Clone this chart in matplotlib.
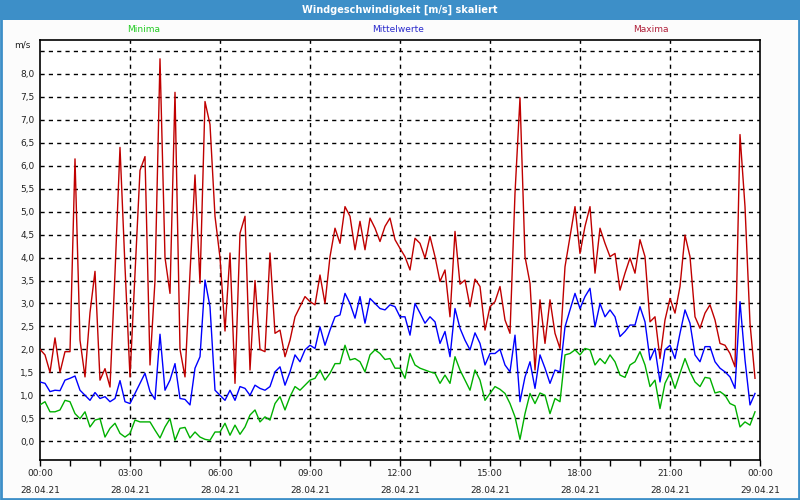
import matplotlib
matplotlib.use("Agg")
import matplotlib.pyplot as plt
from matplotlib.patches import Rectangle
import numpy as np

# 10-minute samples, 28.04.21 00:00 .. 23:50
maxima = [2.0,1.88,1.5,2.25,1.5,1.95,1.95,6.15,2.2,1.4, 2.8,3.7,1.33,1.58,1.18,3.66,6.4,3.8,1.4,3.66,
          5.9,6.2,1.66,3.5,8.33,4.0,3.22,7.6,2.0,1.4, 3.66,5.8,
          3.44,7.4,6.9,4.9,4.0,2.4,4.1,
          1.26,4.53,4.9,1.55,3.5,2.0,1.95,4.1,2.35,2.42, 1.84,2.2,2.71,2.93,3.15,3.04,2.97,3.62,3.0,4.02,
          4.64,4.31,5.11,4.9,4.17,4.79,4.17,4.86,4.64,4.35, 4.68,
          4.86,4.39,4.2,4.02,3.73,4.42,4.31,3.99,4.46,4.02, 3.48,3.73,2.71,4.57,3.42,3.51,2.93,3.53,3.37,2.42,
          2.93,3.04,3.37,2.64,2.35,5.4,7.48,4.02,3.44,1.55, 3.08,2.13,3.08,2.35,2.02,3.8,4.46,5.11,
          4.09,4.68,5.11,3.66,4.64,4.31,4.02,4.09,3.29,3.66, 3.99,3.66,4.39,4.02,2.6,2.71,1.8,2.64,3.11,2.79,
          3.37,4.49,4.02,2.71,2.46,2.79,2.97,2.64,2.13,2.09, 1.91,1.62,6.68,5.11,2.57,1.37]

mittel = [1.29,1.26,1.08,1.11,1.10,1.33,1.37,1.42,1.11,1.0, 0.89,1.06,0.93,0.97,0.86,0.93,1.32,0.86,0.82,1.04,
          1.26,1.48,1.08,0.91,2.33,1.11,1.33,1.69,0.93,0.91, 0.79,1.59,
          1.84,3.51,2.93,1.11,1.0,0.89,1.11,0.89,1.19,1.15, 1.0,1.22,1.15,1.11,1.19,1.51,1.62,1.22,1.51,1.88,
          1.73,1.99,2.09,2.02,2.49,2.09,2.42,2.71,2.75,3.22, 3.0,2.68,3.15,2.57,3.11,3.0,2.89,2.86,
          2.97,2.93,2.71,2.71,2.31,3.0,2.79,2.57,2.71,2.6, 2.13,2.39,1.84,2.89,2.46,2.2,1.99,2.36,2.13,1.66,
          1.91,1.91,2.0,1.66,1.51,2.31,0.86,1.4,1.73,1.15, 1.88,1.59,1.26,1.55,1.51,2.49,2.86,3.22,
          2.89,3.15,3.33,2.49,3.0,2.71,2.86,2.71,2.28,2.39, 2.53,2.53,2.93,2.6,1.77,2.02,1.29,1.99,2.09,1.8,
          2.35,2.86,2.57,1.88,1.73,2.06,2.06,1.73,1.59,1.51, 1.4,1.15,3.04,1.77,0.79,1.04]

minima = [0.79,0.86,0.64,0.64,0.68,0.89,0.86,0.60,0.49,0.64, 0.31,0.46,0.49,0.09,0.28,0.39,0.17,0.09,0.17,0.46,
          0.42,0.42,0.42,0.24,0.07,0.31,0.49,0.02,0.28,0.30, 0.07,0.20,
          0.09,0.04,0.02,0.2,0.2,0.39,0.13,0.35,0.15,0.31, 0.57,0.68,0.42,0.53,0.46,0.82,0.97,0.68,0.97,1.19,
          1.11,1.22,1.33,1.37,1.55,1.33,1.48,1.69,1.69,2.09, 1.77,1.8,1.73,1.51,1.88,1.99,1.91,1.78,
          1.8,1.59,1.59,1.37,1.91,1.66,1.59,1.55,1.51,1.48, 1.26,1.44,1.26,1.84,1.55,1.33,1.11,1.55,1.33,0.89,
          1.04,1.19,1.13,1.04,0.82,0.53,0.04,0.6,1.04,0.82, 1.05,1.0,0.6,0.93,0.86,1.88,1.91,1.99,
          1.88,2.02,1.99,1.66,1.8,1.69,1.88,1.73,1.44,1.39, 1.66,1.73,1.95,1.66,1.19,1.33,0.71,1.26,1.48,1.15,
          1.48,1.8,1.51,1.29,1.19,1.39,1.37,1.05,1.08,1.0, 0.82,0.77,0.31,0.42,0.35,0.64]

hours = np.arange(len(mittel)) / 6.0

x_ticks = [0, 3, 6, 9, 12, 15, 18, 21, 24]
x_labels = ["00:00\n28.04.21", "03:00\n28.04.21", "06:00\n28.04.21", "09:00\n28.04.21",
            "12:00\n28.04.21", "15:00\n28.04.21", "18:00\n28.04.21", "21:00\n28.04.21",
            "00:00\n29.04.21"]
y_ticks = [0.0, 0.5, 1.0, 1.5, 2.0, 2.5, 3.0, 3.5, 4.0, 4.5, 5.0, 5.5, 6.0, 6.5, 7.0, 7.5, 8.0]

fig = plt.figure(figsize=(8, 5), dpi=100, facecolor="#fcfcfc")
ax = fig.add_axes([0.05, 0.08, 0.90, 0.84])
ax.set_facecolor("#ffffff")

# title bar and frame
fig.patches.append(Rectangle((0, 0.96), 1, 0.04, transform=fig.transFigure,
                             facecolor="#3d8fc8", edgecolor="none", zorder=0))
fig.patches.append(Rectangle((0.001, 0.002), 0.998, 0.996, transform=fig.transFigure,
                             facecolor="none", edgecolor="#3d8fc8", lw=2, zorder=5))
fig.text(0.5, 0.98, "Windgeschwindigkeit [m/s] skaliert", color="white", ha="center",
         va="center", fontsize=7, fontweight="bold")
fig.text(0.179, 0.94, "Minima", color="#22cc22", ha="center", va="center", fontsize=6.5)
fig.text(0.497, 0.94, "Mittelwerte", color="#2a2acc", ha="center", va="center", fontsize=6.5)
fig.text(0.813, 0.94, "Maxima", color="#b0203a", ha="center", va="center", fontsize=6.5)
fig.text(0.038, 0.91, "m/s", color="#222222", ha="right", va="center", fontsize=6.5)

# grid
for yv in y_ticks + [8.5]:
    ax.axhline(yv, color="black", lw=1, ls=(0, (3, 3)), zorder=1)
for xv in x_ticks[1:-1]:
    ax.axvline(xv, color="black", lw=1, ls=(0, (3, 3)), zorder=1)

ax.plot(hours, minima, color="#00b000", lw=1, zorder=3)
ax.plot(hours, mittel, color="#0000ff", lw=1, zorder=3)
ax.plot(hours, maxima, color="#c00000", lw=1, zorder=3)

ax.set_xlim(0, 24)
ax.set_ylim(-0.41, 8.74)
ax.set_yticks(y_ticks)
ax.set_yticklabels([f"{v:.1f}".replace(".", ",") for v in y_ticks], fontsize=6.5, color="#222222")
ax.tick_params(axis="y", length=0, pad=4)
ax.set_xticks(x_ticks)
ax.set_xticklabels(x_labels, fontsize=6.5, color="#222222", linespacing=2.2)
ax.set_xticks(np.arange(0, 25, 1), minor=True)
ax.tick_params(axis="x", which="both", length=4, width=1, direction="out", pad=2.4)
for s in ax.spines.values():
    s.set_color("black")
    s.set_linewidth(1.2)

fig.savefig("out.png", dpi=100, facecolor=fig.get_facecolor())
